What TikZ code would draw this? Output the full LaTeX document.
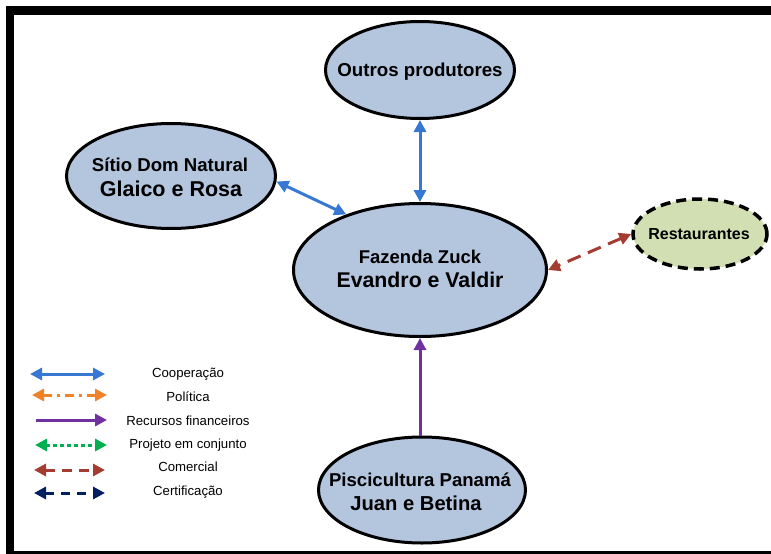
\documentclass[tikz,border=0pt]{standalone}
\usepackage{fontspec}
\setmainfont{Liberation Sans}
\usetikzlibrary{shapes.geometric,arrows.meta}
\definecolor{nodeblue}{RGB}{180,197,222}
\definecolor{nodegreen}{RGB}{209,223,178}
\definecolor{coopblue}{RGB}{55,120,210}
\definecolor{polorange}{RGB}{240,130,40}
\definecolor{recpurple}{RGB}{112,48,160}
\definecolor{projgreen}{RGB}{0,176,80}
\definecolor{combrown}{RGB}{165,60,50}
\definecolor{certnavy}{RGB}{0,32,96}
\tikzset{
  actor/.style={ellipse, draw=black, line width=3pt, fill=nodeblue, inner sep=0pt},
  extactor/.style={ellipse, draw=black, line width=3.5pt, dash pattern=on 10pt off 6pt, fill=nodegreen, inner sep=0pt},
  label/.style={anchor=base, inner sep=0pt, font=\bfseries},
  tip/.style={-{Triangle[length=12pt,width=12pt]}},
  tips/.style={{Triangle[length=12pt,width=12pt]}-{Triangle[length=12pt,width=12pt]}},
  rel/.style={line width=3pt},
  legtext/.style={anchor=base, inner sep=0pt, font=\fontsize{13.2}{15}\selectfont},
}
\begin{document}
\begin{tikzpicture}[x=1pt,y=-1pt]
\useasboundingbox (0,0) rectangle (771,554);
% frame
\fill[black] (6,6) rectangle (771,14.5);
\fill[black] (6,6) rectangle (14,554);
\fill[black] (6,550.5) rectangle (771,554);

% nodes
\node[actor, minimum width=189pt, minimum height=97pt] (out) at (420,70) {};
\node[actor, minimum width=209pt, minimum height=105pt] (sit) at (171,176) {};
\node[actor, minimum width=253pt, minimum height=133pt] (faz) at (420,270) {};
\node[extactor, minimum width=134pt, minimum height=70pt] (res) at (700,234) {};
\node[actor, minimum width=207pt, minimum height=106pt] (pis) at (422,490) {};

% node texts
\node[label, font=\bfseries\fontsize{18.7}{22}\selectfont] (outA) at (420,76.6) {Outros produtores};
\node[label, font=\bfseries\fontsize{18.6}{22}\selectfont] (sitA) at (170,171.7) {Sítio Dom Natural};
\node[label, font=\bfseries\fontsize{21.5}{25}\selectfont] (sitB) at (171,196) {Glaico e Rosa};
\node[label, font=\bfseries\fontsize{18.5}{22}\selectfont] (fazA) at (420,263.5) {Fazenda Zuck};
\node[label, font=\bfseries\fontsize{21.3}{25}\selectfont] (fazB) at (420,287.7) {Evandro e Valdir};
\node[label, font=\bfseries\fontsize{16}{20}\selectfont] (resA) at (699,239.7) {Restaurantes};
\node[label, font=\bfseries\fontsize{18.6}{22}\selectfont] (pisA) at (420,486.7) {Piscicultura Panamá};
\node[label, font=\bfseries\fontsize{20.2}{24}\selectfont] (pisB) at (416,510.3) {Juan e Betina};

% relations
\draw[rel, coopblue, tips] (out.south) -- (faz.north);
\draw[rel, coopblue, tips] (sit.-3) -- (faz.143.5);
\draw[rel, combrown, tips, dash pattern=on 14pt off 8pt] (res.west) -- (faz.east);
\draw[rel, recpurple, tip] (pis.north -| faz.south) -- (faz.south);

% legend
\coordinate (l1a) at (30,374);  \coordinate (l1b) at (105,374);
\coordinate (l2a) at (32,395);  \coordinate (l2b) at (107,395);
\coordinate (l3a) at (36,420);  \coordinate (l3b) at (107,420);
\coordinate (l4a) at (35,445);  \coordinate (l4b) at (107,445);
\coordinate (l5a) at (34,470);  \coordinate (l5b) at (105,470);
\coordinate (l6a) at (34,493);  \coordinate (l6b) at (105,493);
\draw[rel, coopblue, tips] (l1a) -- (l1b);
\draw[rel, polorange, tips, dash pattern=on 9pt off 5pt on 3pt off 5pt] (l2a) -- (l2b);
\draw[rel, recpurple, tip] (l3a) -- (l3b);
\draw[rel, projgreen, tips, dash pattern=on 4pt off 3pt] (l4a) -- (l4b);
\draw[rel, combrown, tips, dash pattern=on 10pt off 7pt] (l5a) -- (l5b);
\draw[rel, certnavy, tips, dash pattern=on 9pt off 7pt] (l6a) -- (l6b);

\node[legtext] (t1) at (188,377.8) {Cooperação};
\node[legtext] (t2) at (188,401.8) {Política};
\node[legtext] (t3) at (188,425.8) {Recursos financeiros};
\node[legtext] (t4) at (188,448.8) {Projeto em conjunto};
\node[legtext] (t5) at (188,471.8) {Comercial};
\node[legtext] (t6) at (188,495.8) {Certificação};
\end{tikzpicture}
\end{document}
